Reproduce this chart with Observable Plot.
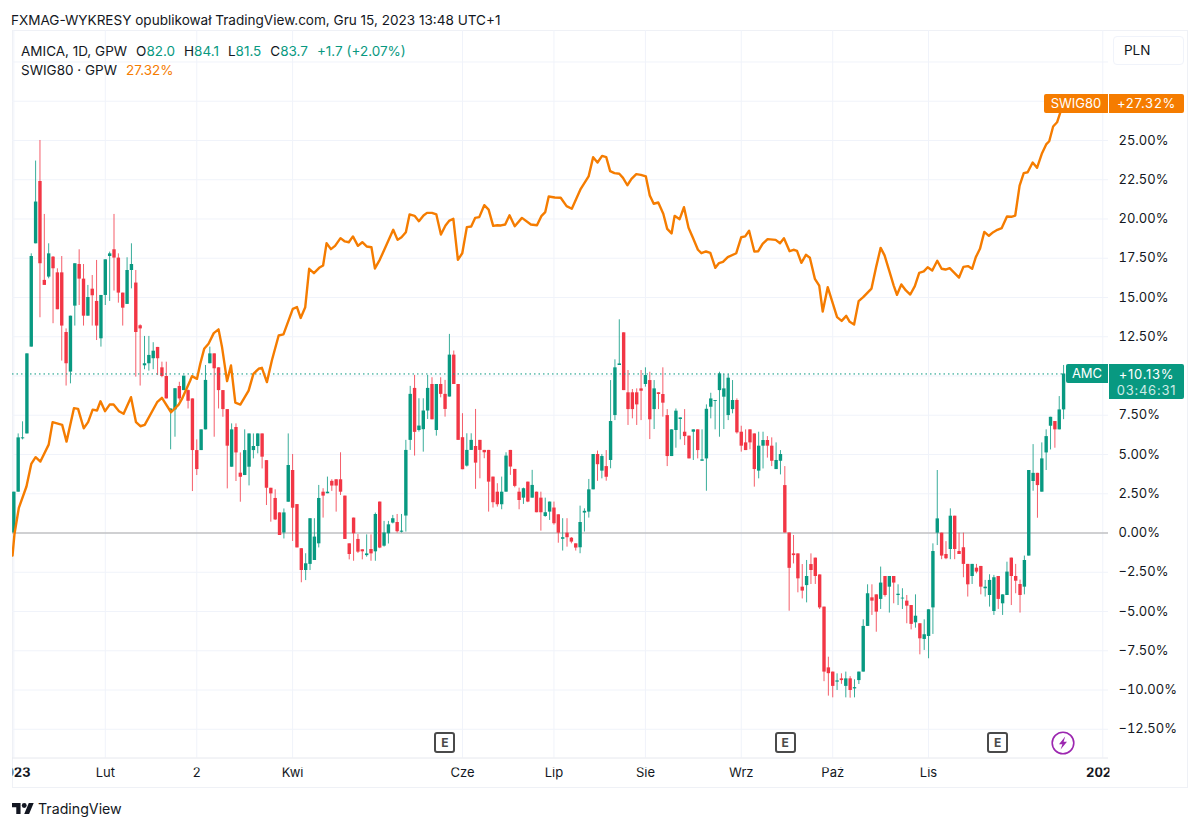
<!DOCTYPE html>
<html>
<head>
<meta charset="utf-8">
<script src="https://cdn.jsdelivr.net/npm/d3@7"></script>
<script src="https://cdn.jsdelivr.net/npm/@observablehq/plot@0.6"></script>
<style>
html,body{margin:0;padding:0;background:#fff;}
body{position:relative;width:1200px;height:829px;overflow:hidden;font-family:Inter,"Liberation Sans",sans-serif;color:#131722;}
#head{position:absolute;left:11px;top:11px;font-size:13.55px;line-height:18px;white-space:nowrap;}
#chart{position:absolute;left:0;top:30px;}
.ov{position:absolute;white-space:nowrap;}
.leg{font-size:13.5px;line-height:18px;left:21px;}
.g{color:#089981}.o{color:#F57C00}
.tag{color:#fff;font-size:13px;text-align:center;box-sizing:border-box;}
.wide{letter-spacing:0.75px;}
.e{width:21px;height:21px;box-sizing:border-box;border:2px solid #4a4a4a;border-radius:3px;font-size:12px;font-weight:700;color:#4a4a4a;text-align:center;line-height:17px;top:732px;}
#frame{position:absolute;left:12px;top:30px;width:1176px;height:758px;box-sizing:border-box;border:1px solid #EFF1F6;}
</style>
</head>
<body>
<div id="frame"></div>
<div id="head">FXMAG-WYKRESY opublikował TradingView.com, Gru 15, 2023 13:48 UTC+1</div>
<div id="chart"></div>
<script>
// AMICA daily candles, percent change from the first open (one row = ten sessions)
const opens = [
0,2.6,6.0,6.31,11.84,18.42,22.39,16.09,16.3,17.57,
16.57,16.57,12.77,10.25,14.45,17.1,16.17,13.81,15.53,14.75,
12.37,15.13,17.61,18.04,17.51,15.28,14.56,16.72,15.92,13.2,
10.65,10.78,11.1,11.82,10.52,9.97,7.75,7.84,9.33,9.07,
9.07,8.54,5.25,5.25,6.57,10.78,11.41,10.52,9.07,7.86,
4.19,6.72,3.81,3.66,4.19,5.25,5.51,6.31,4.61,2.85,
2.2,1.28,0,1.96,3.98,1.81,-1.0,-2.39,-2.0,-1.75,
-0.69,2.6,2.5,3.29,3.39,3.39,2.35,-0.69,0.95,-0.41,
-1.07,-1.44,-1.05,-1.2,1.97,-0.84,-0.05,0.63,0.67,0.05,
1.08,5.9,9.21,6.53,6.58,7.77,9.46,6.53,9.46,8.83,
8.66,11.33,9.46,6.07,4.26,5.26,5.51,5.9,5.26,5.26,
3.56,2.6,1.8,2.6,5.26,4.05,2.6,2.22,3.24,2.22,
2.6,2.22,1.05,1.33,1.59,1.16,-0.4,-0.01,-0.33,-0.69,
-0.94,1.27,1.33,2.75,5.0,3.94,4.23,4.62,7.48,10.67,
12.75,8.93,8.93,8.93,9.18,9.46,9.71,7.86,8.93,8.82,
7.48,4.87,6.53,7.23,6.42,6.17,6.42,6.57,4.57,4.72,
8.01,8.38,9.07,8.65,7.48,7.86,8.44,6.42,5.74,6.57,
6.31,3.94,5.53,5.89,5.53,4.04,4.57,3.02,0,-1.33,
-1.33,-3.45,-3.35,-2.01,-1.6,-2.67,-4.72,-8.59,-8.86,-9.5,
-9.29,-9.77,-9.29,-9.93,-9.4,-8.86,-5.95,-4.13,-3.94,-4.23,
-2.77,-3.45,-2.77,-3.98,-4.2,-4.34,-4.62,-5.72,-5.78,-6.78,
-6.59,-4.77,-0.01,-0.01,-1.37,-1.05,1.07,-1.18,-0.94,-2.0,
-2.77,-2.24,-2.13,-3.55,-3.98,-5.0,-2.77,-4.51,-3.98,-1.6,
-2.77,-3.28,-3.45,-1.47,3.28,3.8,2.6,5.1,6.8,7.1,
6.57,7.84];
const highs = [
2.6,6.31,7.08,11.41,17.78,23.69,25.0,20.29,18.42,17.61,
16.83,17.61,13.0,13.81,17.15,18.04,17.1,15.77,16.4,17.36,
15.13,17.4,17.89,20.29,17.78,15.28,17.53,18.42,16.72,13.26,
12.52,12.52,12.12,11.82,10.88,10.88,7.9,9.19,9.6,9.99,
9.11,8.54,5.93,6.57,10.67,11.84,11.41,10.52,9.07,7.86,
6.95,6.95,5.1,6.57,6.31,6.31,6.31,6.31,4.61,2.85,
2.75,1.28,1.53,6.31,5.0,1.81,-1.0,-1.32,0.91,0.91,
3.03,2.82,3.56,3.39,3.39,5.11,2.35,-0.69,0.95,-0.1,
-1.07,-0.12,-0.12,1.27,1.97,0.74,0.74,1.12,1.18,1.18,
5.9,9.34,10.04,8.55,8.55,10.04,9.89,9.46,9.89,9.72,
12.65,11.59,9.46,7.6,6.32,6.32,7.87,5.9,5.26,5.26,
3.56,3.14,3.56,5.11,5.26,4.05,2.86,2.86,3.24,3.99,
2.6,2.6,2.22,1.97,1.97,1.16,0.91,0.91,-0.29,-0.69,
1.71,1.54,3.41,5.0,5.22,5.0,5.25,9.71,11.03,13.58,
12.75,10.35,9.14,9.18,10.35,10.52,10.24,9.71,8.93,10.52,
7.86,6.57,7.9,7.33,7.86,6.17,6.57,6.57,6.57,8.16,
8.9,8.44,10.24,10.09,10.09,9.71,8.54,6.8,6.57,6.57,
6.31,6.42,6.42,6.14,6.06,5.74,5.25,4.23,0,-0.16,
-1.33,-2.01,-1.75,-1.33,-1.6,-2.67,-4.72,-7.91,-8.86,-8.97,
-8.97,-8.86,-9.15,-9.35,-8.86,-5.53,-3.3,-3.3,-3.94,-2.17,
-2.77,-2.77,-2.77,-3.3,-3.55,-3.98,-4.62,-3.94,-5.78,-5.53,
-4.89,-0.69,3.98,-0.01,-0.55,1.54,1.07,-0.01,-0.01,-2.0,
-2.0,-2.0,-2.13,-3.02,-2.66,-2.7,-2.77,-3.94,-1.86,-1.6,
-2.0,-3.0,-1.47,3.98,5.63,3.8,5.74,6.57,7.37,7.1,
8.69,10.67];
const lows = [
0,2.6,5.93,6.31,11.84,18.42,13.71,15.77,16.19,13.33,
14.22,10.95,9.36,9.5,13.18,14.49,13.18,13.81,13.18,12.26,
11.84,14.49,14.75,15.41,14.64,13.18,14.56,15.55,9.93,9.36,
10.4,10.31,10.4,10.03,9.89,8.54,5.3,6.1,8.4,9.07,
7.9,2.64,3.66,5.25,6.57,10.78,6.1,7.9,7.37,2.81,
4.19,3.28,1.96,3.66,3.0,4.72,5.04,4.08,1.75,0.69,
0.8,-0.16,-0.38,1.96,-0.54,-0.95,-3.17,-3.03,-2.39,-1.75,
-0.95,0.95,2.5,2.65,1.33,2.39,-0.41,-1.71,-1.8,-1.3,
-1.71,-1.54,-1.8,-1.8,-1.0,-0.9,-0.7,0.58,0,0,
0.06,5.26,4.9,6.43,5.15,7.23,7.21,6.17,8.61,7.38,
8.66,9.46,5.9,4.03,4.2,5.26,2.78,3.45,4.73,1.33,
1.59,1.65,1.48,2.6,3.67,2.88,1.48,1.82,1.93,2.22,
1.29,0.12,1.0,0.8,0.5,-0.65,-1.15,-0.9,-0.69,-1.15,
-1.32,0.06,0.95,2.75,3.29,3.45,3.3,4.09,7.16,10.67,
9.07,6.85,7.27,6.85,7.16,9.29,5.95,6.59,7.86,7.38,
4.23,4.87,5.4,5.93,5.57,4.72,4.62,4.72,4.57,2.66,
7.27,6.57,6.1,6.59,7.16,7.59,6.3,5.15,5.25,5.3,
2.92,3.45,4.08,4.77,4.23,4.04,3.7,0,-4.98,-1.97,
-3.81,-4.2,-4.45,-3.28,-3.28,-4.87,-9.47,-10.39,-10.5,-10.03,
-9.64,-10.5,-10.52,-10.5,-9.65,-8.86,-5.95,-5.25,-6.32,-4.87,
-4.08,-5.1,-4.51,-4.62,-4.87,-5.78,-6.17,-6.06,-7.76,-7.48,
-8.01,-6.46,-0.8,-1.7,-1.7,-1.7,-1.7,-1.37,-2.85,-4.08,
-3.28,-2.6,-3.94,-4.08,-4.72,-5.25,-4.87,-5.25,-3.98,-4.62,
-3.87,-5.1,-3.94,-1.47,2.66,0.94,2.6,3.98,5.29,5.4,
6.57,7.22];
const closes = [
2.6,6.06,6.06,11.41,17.61,21.08,17.15,15.77,17.78,16.83,
14.22,13.18,10.78,13.81,17.15,16.17,13.81,15.0,15.11,13.18,
15.13,17.4,17.78,17.51,15.28,14.32,16.72,17.1,12.77,13.0,
10.78,11.31,11.58,11.1,9.97,8.54,7.9,9.19,8.54,9.99,
8.39,5.25,4.04,6.57,9.72,11.41,10.46,9.07,7.86,5.53,
6.57,5.1,3.55,5.25,6.31,5.51,6.31,4.83,2.85,2.49,
0.83,-0.16,1.28,4.3,1.58,-0.95,-2.39,-1.96,0.91,-0.26,
2.2,2.35,2.6,2.99,2.99,2.6,-0.41,-1.37,-0.05,-1.22,
-1.2,-1.33,-1.33,1.18,-0.96,0,0.52,0.91,0.08,0.12,
5.26,8.83,6.41,6.81,7.77,9.21,7.21,9.46,8.83,7.87,
11.33,9.46,5.9,4.03,5.26,5.9,4.45,5.26,5.11,3.24,
1.93,1.8,2.6,4.9,4.2,2.97,2.07,2.82,1.97,3.03,
1.29,1.29,1.29,1.97,0.59,-0.01,-0.3,-0.3,-0.58,-0.96,
0.67,1.38,2.75,5.0,4.35,4.87,3.55,7.1,10.52,10.77,
9.07,7.86,7.86,8.16,9.03,10.03,7.21,9.18,8.82,8.27,
4.87,6.57,7.76,7.33,6.14,4.72,6.57,5.25,4.66,7.88,
8.54,8.44,10.14,9.18,9.86,8.44,6.38,5.53,5.25,5.74,
4.04,5.53,5.89,5.53,4.57,4.62,5.0,0,-2.25,-1.44,
-2.92,-3.7,-2.77,-2.39,-2.77,-4.77,-8.86,-8.96,-9.77,-9.42,
-9.4,-9.29,-10.03,-9.85,-8.86,-5.95,-3.87,-4.34,-5.04,-3.19,
-3.98,-2.77,-3.19,-3.9,-4.15,-4.66,-5.82,-5.3,-6.74,-6.48,
-4.89,-1.18,0.9,-1.47,-1.64,1.07,-1.05,-1.37,-2.0,-3.3,
-2.0,-2.49,-3.45,-3.45,-3.02,-2.85,-4.23,-3.94,-2.49,-2.77,
-3.07,-3.98,-1.75,3.98,3.8,3.02,4.72,6.14,7.37,6.57,
7.84,10.13];

// SWIG80 comparison line: session position and percent change at each visible vertex
const swigSession = [
-0.3,0.15,1.15,2.9,4,5,6.1,8,8.9,11.1,12.1,13.8,14.75,16.05,17.05,18.1,19.1,19.9,20.95,22,22.9,24.15,25.2,26.9,28.05,29.05,30.05,32.9,34,36.1,37.85,38.6,40.5,40.9,42.05,42.8,43.7,44.7,45.9,47,47.8,48.95,49.85,50.85,52,53.9,55,56.2,56.95,58.1,59.25,60.8,61.9,64.05,65,65.85,
66.9,67.8,68.9,70.1,71,71.8,72.8,73.75,75,76,76.9,77.85,79,80,81,82.1,82.9,84,85.15,87.1,88.1,89,90,90.85,92,93,94.05,94.85,96,97,98.05,99.1,100,100.9,101.95,102.95,104,105,105.9,106.85,108,109,110.05,111,111.85,112.8,113.8,115,116.65,118.7,120.1,121.1,122,122.8,124.2,125.55,126.9,128.1,129.1,130.15,131.95,
133,134,135.05,136,136.9,137.9,139,139.85,140.85,141.8,142.9,143.95,145.1,146,146.9,147.95,149.1,150,151,151.7,152.85,153.85,154.9,155.9,157.05,157.85,158.9,159.9,161.05,161.9,162.8,163.9,165.85,167,167.9,168.8,170,170.9,171.9,173.05,174.9,175.9,176.8,178.1,179,179.8,180.8,181.85,182.75,183.9,184.9,185.7,186.85,189,190.05,191.1,191.9,192.9,193.95,195,196.9,197.95,199,199.9,201,202,202.75,203.75,204.8,205.8,206.85,207.85,208.9,209.8,210.85,212,213,213.9,214.85,217,218,219.05,220,220.85,221.8,222.8,223.85,224.85,225.8,226.8,228,229,229.9,230.9,231.85,232.75,233.9,234.9,236.05,237,237.7,238.6,239.5,240.2,241];
const swigPercent = [
-1.44,-0.06,1.6,2.96,4.4,4.83,4.55,5.63,7.06,6.89,5.82,7.95,7.91,6.67,7.06,7.86,7.8,8.39,7.76,8.18,8.18,7.76,7.59,8.65,7.06,6.8,6.89,8.33,8.61,7.69,8.18,8.54,9.71,9.99,9.82,10.78,11.73,12.05,12.73,12.97,11.84,9.67,10.67,8.3,8.18,9.07,10.14,10.46,10.52,9.61,11,12.58,12.65,14.28,14.39,13.7,
14.38,16.83,16.55,16.89,17.04,18.46,18.08,18.29,18.78,18.57,18.52,18.89,18.29,18.52,18.25,18.2,16.85,17.4,18.1,19.31,18.67,18.84,19.16,20.29,20.2,19.86,20.22,20.39,20.39,20.29,19.01,19.59,19.9,20.01,17.4,17.82,19.48,19.52,20.07,20.12,20.88,20.6,19.56,19.6,19.59,19.65,20.24,19.54,20.07,19.65,19.6,20.18,20.44,21.43,21.37,21.35,20.82,20.65,21.28,21.92,22.71,
23.94,23.6,24.02,23.94,23.05,22.92,22.88,22.62,22.15,22.56,22.86,22.81,22.71,21.5,20.97,21.05,20.33,19.37,19.08,20.2,19.99,20.75,19.44,18.8,18.04,17.82,17.93,17.84,16.89,17.19,17.27,17.57,17.82,18.84,18.89,19.25,17.93,17.95,18.42,18.72,18.67,18.46,18.78,17.95,18.04,17.97,17.21,17.72,17.53,16.19,15.76,14.11,15.66,13.75,13.51,13.83,13.45,13.28,14.77,15.02,15.57,16.93,18.16,17.68,16.68,15.76,15.17,15.83,15.45,15.19,15.72,16.57,16.66,16.93,16.72,17.34,16.83,16.78,16.87,16.27,16.95,17,16.83,17.57,18.1,19.18,18.93,19.16,19.31,19.42,20.16,20.14,20.22,22.13,22.92,22.98,23.6,23.26,24.19,24.75,24.95,25.89,26.16,26.75,27.32];

const monthTicks = [21,42,64,103,124,145,167,188,210];
const monthLabels = ["Lut","2","Kwi","Cze","Lip","Sie","Wrz","Paź","Lis"];
const yearTicks = [0,250];
const yearLabels = ["2023","2024"];
const gridTicks = [0,21,42,64,103,124,145,167,188,210,250];
const gridPercent = [-12.5,-10,-7.5,-5,-2.5,0,2.5,5,7.5,10,12.5,15,17.5,20,22.5,25,27.5,30];
const axisPercent = [-12.5,-10,-7.5,-5,-2.5,0,2.5,5,7.5,12.5,15,17.5,20,22.5,25];
const earningsSessions = [99.1,177.2,226];
const lastAmica = 10.13, lastSwig = 27.32;

const UP = "#089981", DOWN = "#F23645", SWIG = "#F57C00", FONT = 'Inter,"Liberation Sans",sans-serif';
const candles = opens.map((o,i)=>({i,o,h:highs[i],l:lows[i],c:closes[i]}));
const swig = swigSession.map((s,k)=>({s,p:swigPercent[k]}));
const colorOf = d => d.c >= d.o ? UP : DOWN;
const pctFmt = d => (d<0?"\u2212":"") + Math.abs(d).toFixed(2) + "%";

const plot = Plot.plot({
  width:1200, height:759,
  marginLeft:12, marginRight:92, marginTop:0, marginBottom:31.5,
  style:{fontFamily:FONT, fontSize:"13px", color:"#131722", background:"transparent", overflow:"visible"},
  x:{type:"linear", domain:[-0.305,251.31], axis:null},
  y:{type:"linear", domain:[-14.331,32.006], axis:null},
  marks:[
    Plot.gridX(gridTicks,{stroke:"#F0F3FA",strokeOpacity:1}),
    Plot.gridY(gridPercent,{stroke:"#F0F3FA",strokeOpacity:1}),
    Plot.ruleY([0],{stroke:"#A8A8A8",strokeWidth:1.2}),
    Plot.ruleX(candles,{x:"i",y1:"l",y2:"h",stroke:colorOf,strokeWidth:1,strokeOpacity:0.8}),
    Plot.ruleX(candles,{x:"i",y1:"o",y2:"c",stroke:colorOf,strokeWidth:3.4,strokeOpacity:1}),
    Plot.ruleY([lastAmica],{x1:-0.305,x2:241,stroke:UP,strokeWidth:1,strokeDasharray:"1.5,3"}),
    Plot.line(swig,{x:"s",y:"p",stroke:SWIG,strokeWidth:2.4,curve:"linear",clip:"frame"}),
    Plot.axisY(axisPercent,{anchor:"right",tickSize:0,tickPadding:10,tickFormat:pctFmt,fontSize:13,fill:"#131722"}),
    Plot.axisX(monthTicks,{anchor:"bottom",tickSize:0,tickPadding:10,tickFormat:(d,i)=>monthLabels[monthTicks.indexOf(d)],fontSize:13,fill:"#131722"}),
    Plot.axisX(yearTicks,{anchor:"bottom",tickSize:0,tickPadding:10,tickFormat:d=>yearLabels[yearTicks.indexOf(d)],fontSize:13,fontWeight:700,fill:"#131722"}),
    Plot.ruleY([-14.331],{stroke:"#E6E8EE",strokeWidth:1,x1:-0.305,x2:251.31})
  ]
});
document.getElementById("chart").appendChild(plot);

// clip the x-axis labels at the price-scale edge, as the source chart does
const svg = d3.select(plot);
svg.append("defs").append("clipPath").attr("id","xclip").append("rect").attr("x",12).attr("y",727).attr("width",1097).attr("height",32);
svg.selectAll('g[aria-label="x-axis tick label"]').attr("clip-path","url(#xclip)");

// overlays positioned through the chart's scales
const yPx = v => plot.scale("y").apply(v) + 30;
const xPx = v => plot.scale("x").apply(v);
function ov(html,css,cls){const d=document.createElement("div");d.className="ov "+(cls||"");d.style.cssText=css;d.innerHTML=html;document.body.appendChild(d);return d;}

ov('AMICA, 1D, GPW<span style="margin-left:9px">O</span><span class="g">82.0</span><span style="margin-left:9px">H</span><span class="g">84.1</span><span style="margin-left:9px">L</span><span class="g">81.5</span><span style="margin-left:9px">C</span><span class="g">83.7</span><span class="g" style="margin-left:9px">+1.7 (+2.07%)</span>','top:42px;','leg');
ov('SWIG80 · GPW<span class="o" style="margin-left:9px">27.32%</span>','top:61px;','leg');
ov('PLN','left:1113px;top:36px;width:71px;height:29px;box-sizing:border-box;border:1px solid #F0F3FA;border-radius:4px;font-size:13.5px;line-height:27px;padding-left:10px;');

const ys = yPx(lastSwig), ya = yPx(lastAmica);
ov('SWIG80',`left:1044px;top:${ys-9.5}px;width:64px;height:19px;background:${SWIG};border-radius:2px 0 0 2px;line-height:19px;`,'tag');
ov('+27.32%',`left:1109px;top:${ys-9.5}px;width:75px;height:19px;background:${SWIG};border-radius:0 2px 2px 0;line-height:19px;`,'tag wide');
ov('AMC',`left:1066px;top:${ya-9.5}px;width:42px;height:19px;background:${UP};border-radius:2px 0 0 2px;line-height:19px;`,'tag');
ov('+10.13%<br><span style="color:#CDEBE6">03:46:31</span>',`left:1109px;top:${ya-9.5}px;width:75px;height:35px;background:${UP};border-radius:0 2px 2px 0;line-height:16px;padding-top:2px;`,'tag wide');

earningsSessions.forEach(s=>ov('E',`left:${xPx(s)-10.5}px;`,'e'));
ov('<svg width="24" height="24" viewBox="0 0 24 24"><circle cx="12" cy="12" r="10.8" fill="#fff" stroke="#9C27B0" stroke-width="1.6"/><path d="M14.2 5.5 8 13.2h3.4L9.6 18.6 16 10.8h-3.4z" fill="#9C27B0"/></svg>',`left:${xPx(241)-12}px;top:731px;line-height:0;`);
ov('<svg width="22" height="11" viewBox="0 0 36 18"><path d="M14 18H7V7H0V0h14zM28 18h-8L27.5 0h8z" fill="#131722"/><circle cx="20" cy="4" r="4" fill="#131722"/></svg>','left:12px;top:803px;line-height:0;');
ov('TradingView','left:38px;top:799px;font-size:14.2px;line-height:20px;');
</script>
</body>
</html>
